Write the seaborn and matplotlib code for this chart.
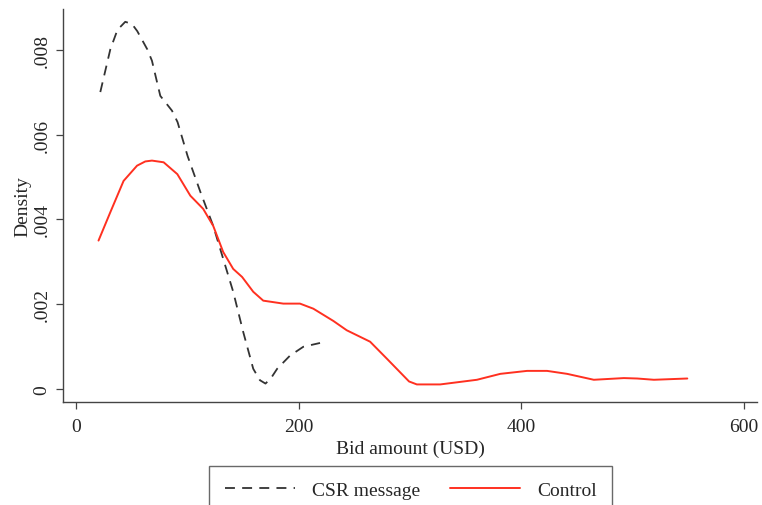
import pandas as pd
import seaborn as sns
import matplotlib.pyplot as plt

# Values (kernel density curves)
csr_bid = [21.6, 30.6, 37, 44, 50, 54.8, 63.8, 68, 75.5, 86, 91, 100, 111.5,
           123, 132, 141, 150, 159, 165, 170, 175, 180.5, 192, 204, 219]
csr_density = [0.00701, 0.00802, 0.00848, 0.00867, 0.00862, 0.00845, 0.00802,
               0.00775, 0.00692, 0.00657, 0.0063, 0.0055, 0.00465, 0.00385,
               0.00307, 0.00229, 0.00134, 0.00047, 0.00020, 0.00012, 0.00025,
               0.00047, 0.00078, 0.00099, 0.00108]

control_bid = [20, 30.6, 42.5, 54.6, 62, 68, 78.5, 90.8, 102.5, 114, 123, 132,
               141, 149, 159, 168, 186, 201, 213, 231, 243, 264, 279, 299, 306,
               327, 360, 381, 405, 423, 441, 465, 492, 504, 519, 549]
control_density = [0.0035, 0.00417, 0.00491, 0.00527, 0.00537, 0.00539,
                   0.00535, 0.00507, 0.00456, 0.00425, 0.00385, 0.00323,
                   0.00283, 0.00264, 0.00229, 0.00208, 0.00201, 0.00201,
                   0.00189, 0.0016, 0.00138, 0.00111, 0.00071, 0.00017,
                   0.0001, 0.0001, 0.00021, 0.00035, 0.00042, 0.00042,
                   0.00035, 0.00021, 0.00025, 0.00024, 0.00021, 0.00024]

x_ticks = [0, 200, 400, 600]
y_ticks = [0, 0.002, 0.004, 0.006, 0.008]
y_tick_labels = ['0', '.002', '.004', '.006', '.008']

csr = pd.DataFrame({'bid': csr_bid, 'density': csr_density})
control = pd.DataFrame({'bid': control_bid, 'density': control_density})

sns.set_style('ticks')
plt.rcParams['font.family'] = ['Liberation Serif', 'DejaVu Serif']

fig = plt.figure(figsize=(7.62, 5.06), dpi=100)
ax = fig.add_axes([0.083, 0.204, 0.911, 0.776])

sns.lineplot(data=csr, x='bid', y='density', ax=ax, color='#333333',
             linewidth=1.3, label='CSR message')
ax.lines[-1].set_dashes([5.5, 4])
sns.lineplot(data=control, x='bid', y='density', ax=ax, color='#ff3020',
             linewidth=1.4, label='Control')

ax.set_xlim(-11.7, 612)
ax.set_ylim(-0.00031, 0.00897)
ax.set_xticks(x_ticks)
ax.set_xticklabels([str(t) for t in x_ticks], fontsize=14)
ax.set_yticks(y_ticks)
ax.set_yticklabels(y_tick_labels, fontsize=14, rotation=90, va='center')
ax.tick_params(direction='out', length=5, width=0.9, color='#444444', pad=4)
ax.tick_params(axis='x', pad=7)
ax.set_xlabel('Bid amount (USD)', fontsize=14, labelpad=3)
ax.set_ylabel('Density', fontsize=14, labelpad=2)
sns.despine(ax=ax)
for side in ['left', 'bottom']:
    ax.spines[side].set_color('#444444')
    ax.spines[side].set_linewidth(1.0)

ax.get_legend().remove()
handles, labels = ax.get_legend_handles_labels()
leg = fig.legend(handles, labels, loc='upper center', ncol=2,
                 bbox_to_anchor=(0.539, 0.077), fontsize=14, frameon=True,
                 fancybox=False, edgecolor='#444444', handlelength=3.6,
                 columnspacing=1.5, borderpad=0.8, handletextpad=0.9,
                 borderaxespad=0.0)
leg.get_frame().set_linewidth(1.0)

plt.savefig('out.png', dpi=100)
